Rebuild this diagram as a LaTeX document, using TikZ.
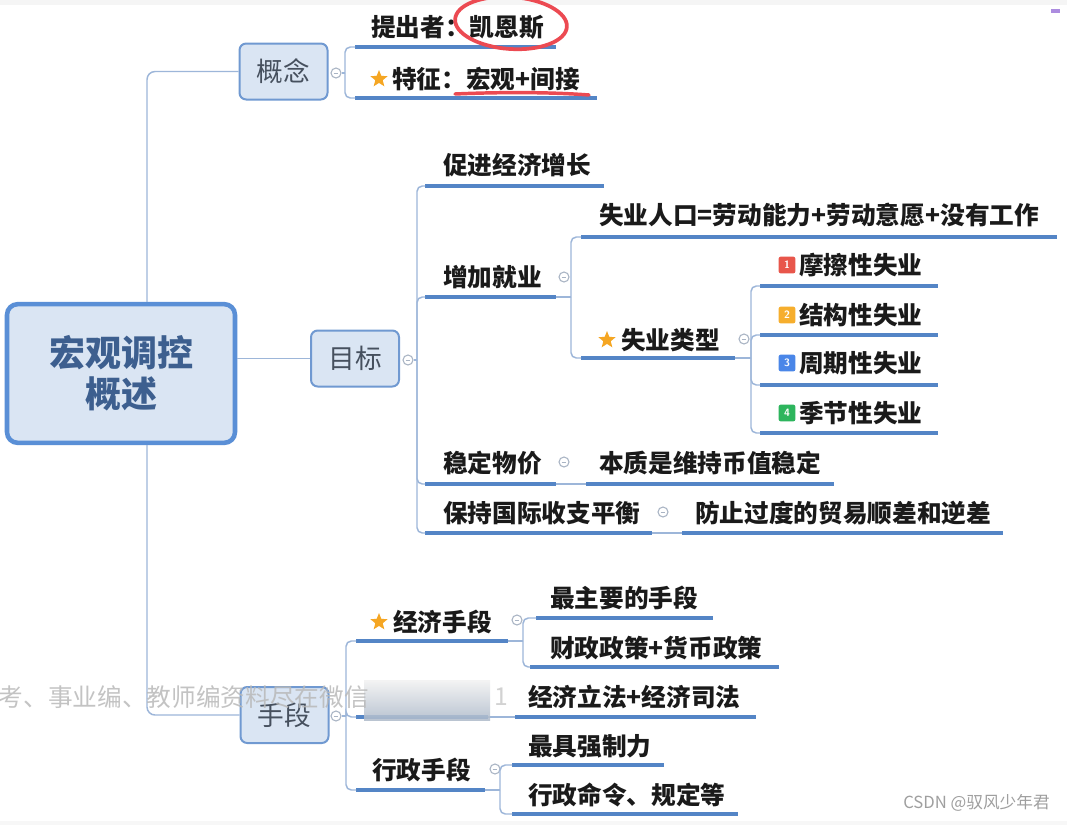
\documentclass[tikz,border=0pt]{standalone}
\usepackage{fontspec}
\newfontfamily\cjk{Noto Sans CJK SC}
\usetikzlibrary{shapes.geometric}
\definecolor{linkblue}{HTML}{9DB6D9}
\definecolor{barblue}{HTML}{5485C6}
\definecolor{boxfill}{HTML}{DAE5F3}
\definecolor{boxline}{HTML}{7099D1}
\definecolor{rootline}{HTML}{5A8FD6}
\definecolor{roottext}{HTML}{3D5F8F}
\definecolor{topictext}{HTML}{46505E}
\definecolor{foldgray}{HTML}{A9B4C4}
\definecolor{starorange}{HTML}{F5A623}
\definecolor{penred}{HTML}{EC4A52}
\definecolor{badgered}{HTML}{E8564B}
\definecolor{badgeorange}{HTML}{F6AE2D}
\definecolor{badgeblue}{HTML}{4A86E8}
\definecolor{badgegreen}{HTML}{2DB55D}
\definecolor{inkblack}{HTML}{1A1A1A}
\tikzset{
  rootbox/.style={
    draw=rootline,
    line width=3.4pt,
    fill=boxfill,
    rounded corners=8pt,
    minimum width=171pt,
    minimum height=104pt,
    align=center,
    text=roottext,
    font=\cjk\bfseries\fontsize{27}{31}\selectfont
  },
  topic/.style={
    draw=boxline,
    line width=1.5pt,
    fill=boxfill,
    rounded corners=5pt,
    minimum width=66pt,
    minimum height=42pt,
    text=topictext,
    font=\cjk\fontsize{20}{24}\selectfont
  },
  leaf/.style={
    anchor=west,
    inner sep=0pt,
    text=inkblack,
    font=\cjk\bfseries\fontsize{18.5}{22}\selectfont
  },
  fold/.style={
    circle,
    draw=foldgray,
    fill=white,
    line width=0.8pt,
    minimum size=7.5pt,
    inner sep=0pt,
    path picture={
      \draw[foldgray, line width=0.6pt]
        ([xshift=2pt]path picture bounding box.west) --
        ([xshift=-2pt]path picture bounding box.east);
    }
  },
  conn/.style={
    draw=linkblue,
    line width=1.1pt,
    rounded corners=4pt
  },
  bar/.style={
    draw=barblue,
    line width=2.3pt
  },
  staricon/.style={
    star,
    star points=5,
    star point ratio=2.3,
    fill=starorange,
    inner sep=0pt,
    minimum size=13.5pt
  },
  badge/.style={
    fill=#1,
    rounded corners=1.5pt,
    minimum size=12.5pt,
    inner sep=0pt,
    text=white,
    font=\sffamily\bfseries\fontsize{8}{8}\selectfont
  }
}

\begin{document}
\begin{tikzpicture}[x=0.75pt, y=-0.75pt]
  \useasboundingbox (0,0) rectangle (1067,825);
  \fill[white] (0,0) rectangle (1067,825);
  \fill[gray!8] (0,0) rectangle (1067,5);
  \fill[gray!6] (0,821) rectangle (1067,825);
  \fill[blue!45!violet!45] (1051,9) rectangle (1060,13);

  % root and main topics
  \node[rootbox] (root) at (121,373.5) {宏观调控\\概述};
  \node[topic] (gainian) at (283.5,71.5) {概念};
  \node[topic] (mubiao) at (355,358.5) {目标};
  \node[topic] (shouduan) at (284.5,715) {手段};

  \coordinate (trunk) at (147,0);
  \draw[conn, rounded corners=6pt] (root.north -| trunk) |- (gainian.west);
  \draw[conn, rounded corners=6pt] (root.south -| trunk) |- (shouduan.west);
  \draw[conn] (root.east |- mubiao.west) -- (mubiao.west);

  % concept branch
  \node[fold] (f-gainian) at (336,73) {};
  \coordinate (b-gainian) at (345,73);
  \node[leaf] (tichu) at (371,27) {提出者：凯恩斯};
  \draw[bar] (355,47) coordinate (u-tichu) -- (556,47);
  \node[staricon] (s-tezheng) at (379,79) {};
  \node[leaf] (tezheng) at (392,79) {特征：宏观+间接};
  \draw[bar] (355,98) coordinate (u-tezheng) -- (597,98);
  \draw[conn] (f-gainian) -- (b-gainian);
  \draw[conn] (b-gainian) |- (u-tichu);
  \draw[conn] (b-gainian) |- (u-tezheng);

  % red pen marks
  \draw[penred, line width=2.8pt, rotate around={-4:(511,23)}]
    (511,23) ellipse [x radius=56, y radius=26];
  \draw[penred, line width=2.6pt, line cap=round]
    (455,94) .. controls (500,92) and (550,92) .. (589,95);

  % goal branch
  \node[fold] (f-mubiao) at (408,360) {};
  \coordinate (b-mubiao) at (417,360);
  \draw[conn] (f-mubiao) -- (b-mubiao);

  \node[leaf] (cujin) at (443,165) {促进经济增长};
  \draw[bar] (425,186) coordinate (u-cujin) -- (604,186);

  \node[leaf] (zengjia) at (443,277) {增加就业};
  \draw[bar] (425,297) coordinate (u-zengjia) -- (556,297) coordinate (e-zengjia);
  \node[fold] (f-zengjia) at (564,277) {};
  \coordinate (b-zengjia) at (571,297);
  \draw[conn] (e-zengjia) -- (b-zengjia);

  \node[leaf] (renkou) at (599,215) {失业人口=劳动能力+劳动意愿+没有工作};
  \draw[bar] (581,237) coordinate (u-renkou) -- (1057,237);

  \node[staricon] (s-leixing) at (607,340) {};
  \node[leaf] (leixing) at (621,340) {失业类型};
  \draw[bar] (581,358) coordinate (u-leixing) -- (735,358) coordinate (e-leixing);
  \node[fold] (f-leixing) at (744,339) {};
  \coordinate (b-leixing) at (751,358);
  \draw[conn] (e-leixing) -- (b-leixing);

  \draw[conn] (b-zengjia) |- (u-renkou);
  \draw[conn] (b-zengjia) |- (u-leixing);

  \node[badge=badgered] (n-mocha) at (787,265) {1};
  \node[leaf] (mocha) at (799,265) {摩擦性失业};
  \draw[bar] (760,286) coordinate (u-mocha) -- (938,286);
  \node[badge=badgeorange] (n-jiegou) at (787,315) {2};
  \node[leaf] (jiegou) at (799,315) {结构性失业};
  \draw[bar] (760,335) coordinate (u-jiegou) -- (938,335);
  \node[badge=badgeblue] (n-zhouqi) at (787,363) {3};
  \node[leaf] (zhouqi) at (799,363) {周期性失业};
  \draw[bar] (760,385) coordinate (u-zhouqi) -- (938,385);
  \node[badge=badgegreen] (n-jijie) at (787,413) {4};
  \node[leaf] (jijie) at (799,413) {季节性失业};
  \draw[bar] (760,433) coordinate (u-jijie) -- (938,433);
  \draw[conn] (b-leixing) |- (u-mocha);
  \draw[conn] (b-leixing) |- (u-jiegou);
  \draw[conn] (b-leixing) |- (u-zhouqi);
  \draw[conn] (b-leixing) |- (u-jijie);

  \node[leaf] (wending) at (443,463) {稳定物价};
  \draw[bar] (425,484) coordinate (u-wending) -- (556,484) coordinate (e-wending);
  \node[fold] (f-wending) at (564,462) {};
  \node[leaf] (benzhi) at (599,463) {本质是维持币值稳定};
  \draw[bar] (586,484) coordinate (u-benzhi) -- (834,484);
  \draw[conn] (e-wending) -- (u-benzhi);

  \node[leaf] (baochi) at (443,513) {保持国际收支平衡};
  \draw[bar] (425,533) coordinate (u-baochi) -- (652,533) coordinate (e-baochi);
  \node[fold] (f-baochi) at (663,512) {};
  \node[leaf] (fangzhi) at (695,513) {防止过度的贸易顺差和逆差};
  \draw[bar] (682,533) coordinate (u-fangzhi) -- (1003,533);
  \draw[conn] (e-baochi) -- (u-fangzhi);

  \draw[conn] (b-mubiao) |- (u-cujin);
  \draw[conn] (b-mubiao) |- (u-zengjia);
  \draw[conn] (b-mubiao) |- (u-wending);
  \draw[conn] (b-mubiao) |- (u-baochi);

  % means branch
  \node[fold] (f-shouduan) at (336,716) {};
  \coordinate (b-shouduan) at (346,716);
  \draw[conn] (f-shouduan) -- (b-shouduan);

  \node[staricon] (s-jingji) at (379,622) {};
  \node[leaf] (jingji) at (393,622) {经济手段};
  \draw[bar] (356,641) coordinate (u-jingji) -- (508,641) coordinate (e-jingji);
  \node[fold] (f-jingji) at (517,620) {};
  \coordinate (b-jingji) at (523,641);
  \draw[conn] (e-jingji) -- (b-jingji);
  \node[leaf] (zhuyao) at (550,598) {最主要的手段};
  \draw[bar] (536,618) coordinate (u-zhuyao) -- (713,618);
  \node[leaf] (caizheng) at (550,648) {财政政策+货币政策};
  \draw[bar] (530,667) coordinate (u-caizheng) -- (779,667);
  \draw[conn] (b-jingji) |- (u-zhuyao);
  \draw[conn] (b-jingji) |- (u-caizheng);

  \draw[bar] (356,717) coordinate (u-hidden) -- (488,717) coordinate (e-hidden);
  \node[leaf] (lifa) at (528,697) {经济立法+经济司法};
  \draw[bar] (515,717) coordinate (u-lifa) -- (756,717);
  \draw[conn] (e-hidden) -- (u-lifa);

  \node[leaf] (xingzheng) at (372,770) {行政手段};
  \draw[bar] (356,790) coordinate (u-xingzheng) -- (485,790) coordinate (e-xingzheng);
  \node[fold] (f-xingzheng) at (495,769) {};
  \coordinate (b-xingzheng) at (500,790);
  \draw[conn] (e-xingzheng) -- (b-xingzheng);
  \node[leaf] (zuiju) at (528,746) {最具强制力};
  \draw[bar] (512,765) coordinate (u-zuiju) -- (664,765);
  \node[leaf] (mingling) at (528,795) {行政命令、规定等};
  \draw[bar] (512,814) coordinate (u-mingling) -- (738,814);
  \draw[conn] (b-xingzheng) |- (u-zuiju);
  \draw[conn] (b-xingzheng) |- (u-mingling);

  \draw[conn] (b-shouduan) |- (u-jingji);
  \draw[conn] (b-shouduan) |- (u-hidden);
  \draw[conn] (b-shouduan) |- (u-xingzheng);

  % blurred patch and watermarks
  \shade[top color=gray!10, bottom color=barblue!45!gray!55, opacity=.85]
    (364,680) rectangle (490,720);
  \node[anchor=east, inner sep=0pt, text=gray!55, opacity=.85,
    font=\cjk\fontsize{18.5}{22}\selectfont] (wm) at (369,697)
    {考、事业编、教师编资料尽在微信};
  \node[anchor=west, inner sep=0pt, text=gray!35,
    font=\cjk\fontsize{18.5}{22}\selectfont] (wm-tail) at (494,697) {1};
  \node[anchor=east, inner sep=0pt, text=gray!75,
    font=\cjk\fontsize{12.5}{14}\selectfont] (csdn) at (1050,803)
    {CSDN @驭风少年君};
\end{tikzpicture}
\end{document}
